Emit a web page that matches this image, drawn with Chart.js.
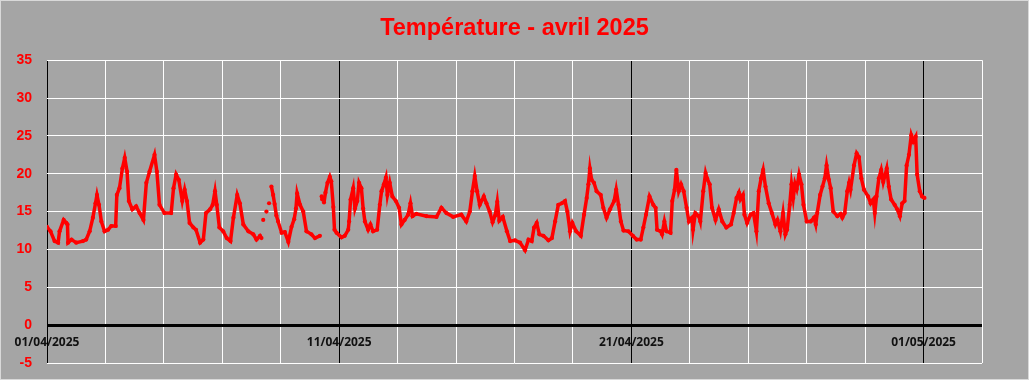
<!DOCTYPE html>
<html>
<head>
<meta charset="utf-8">
<script src="https://cdn.jsdelivr.net/npm/chart.js@4"></script>
<style>
  html, body { margin: 0; padding: 0; background: #a5a5a5; }
  #wrap { width: 1029px; height: 380px; }
</style>
</head>
<body>
<div id="wrap"><canvas id="tempChart" width="1029" height="380"></canvas></div>
<script>
const TITLE = "Température - avril 2025";

// day offsets from 01/04/2025 00:00
const dayOffsets = [
  0.00, 0.12, 0.26, 0.38, 0.43, 0.57, 0.66, 0.70, 0.72, 0.84, 1.00, 1.23, 1.34, 1.46, 1.57, 1.66, 1.71, 1.78, 1.86, 1.97,
  2.09, 2.20, 2.35, 2.39, 2.48, 2.58, 2.66, 2.74, 2.80, 2.92, 3.05, 3.17, 3.30, 3.40, 3.51, 3.68, 3.76, 3.85, 4.02, 4.25,
  4.33, 4.42, 4.51, 4.63, 4.71, 4.79, 4.88, 5.01, 5.10, 5.24, 5.35, 5.44, 5.58, 5.67, 5.75, 5.81, 5.90, 6.03, 6.15, 6.28,
  6.38, 6.51, 6.60, 6.72, 6.89, 7.06, 7.17, 7.29, 7.34, 7.37, 7.40, 7.46, 7.51, 7.56, 7.60, 7.64, 7.68, 7.74, 7.79, 7.85,
  7.91, 8.03, 8.14, 8.26, 8.37, 8.46, 8.52, 8.56, 8.66, 8.77, 8.88, 9.05, 9.17, 9.34, 9.37, 9.40, 9.42, 9.45, 9.48, 9.53,
  9.60, 9.68, 9.73, 9.80, 9.84, 9.91, 10.08, 10.19, 10.31, 10.34, 10.39, 10.48, 10.54, 10.62, 10.68, 10.76, 10.82, 10.88, 10.99, 11.07,
  11.16, 11.30, 11.39, 11.45, 11.53, 11.60, 11.65, 11.73, 11.82, 11.94, 12.05, 12.13, 12.24, 12.36, 12.44, 12.51, 12.64, 12.99, 13.33, 13.50,
  13.67, 13.90, 14.18, 14.35, 14.47, 14.56, 14.64, 14.72, 14.81, 14.95, 15.04, 15.15, 15.25, 15.34, 15.41, 15.48, 15.60, 15.74, 15.85, 16.02,
  16.19, 16.36, 16.48, 16.59, 16.67, 16.76, 16.85, 16.99, 17.16, 17.28, 17.39, 17.50, 17.62, 17.73, 17.81, 17.90, 17.98, 18.11, 18.27, 18.38,
  18.47, 18.53, 18.58, 18.64, 18.72, 18.81, 18.95, 19.04, 19.15, 19.27, 19.41, 19.48, 19.56, 19.64, 19.73, 19.90, 20.05, 20.18, 20.32, 20.41,
  20.50, 20.62, 20.75, 20.83, 20.88, 21.00, 21.05, 21.13, 21.20, 21.34, 21.40, 21.48, 21.54, 21.62, 21.70, 21.79, 21.89, 21.97, 22.08, 22.11,
  22.19, 22.31, 22.36, 22.46, 22.54, 22.59, 22.68, 22.76, 22.88, 22.99, 23.11, 23.25, 23.41, 23.50, 23.60, 23.68, 23.73, 23.82, 23.87, 23.96,
  24.08, 24.18, 24.28, 24.36, 24.44, 24.51, 24.59, 24.70, 24.81, 24.93, 25.00, 25.10, 25.19, 25.27, 25.33, 25.42, 25.48, 25.54, 25.60, 25.66,
  25.74, 25.82, 25.89, 26.00, 26.14, 26.25, 26.31, 26.36, 26.46, 26.54, 26.62, 26.68, 26.76, 26.82, 26.91, 27.05, 27.16, 27.22, 27.30, 27.39,
  27.45, 27.50, 27.62, 27.71, 27.79, 27.87, 27.96, 28.10, 28.19, 28.28, 28.33, 28.39, 28.47, 28.55, 28.62, 28.74, 28.81, 28.89, 29.01, 29.10,
  29.19, 29.27, 29.35, 29.42, 29.50, 29.58, 29.65, 29.73, 29.78, 29.87, 29.95, 30.03,
];

// °C, null = missing measurement
const temperatures = [
  13.0, 12.4, 11.1, 10.9, 12.4, 13.9, 13.5, 13.3, 10.9, 11.3, 10.9, 11.1, 11.3, 12.4, 14.2, 16.1, 17.2, 15.9, 13.7, 12.4,
  12.6, 13.1, 13.1, 17.2, 18.1, 20.7, 22.1, 20.3, 16.4, 15.3, 15.7, 14.8, 13.9, 18.8, 20.3, 22.5, 20.3, 15.9, 14.8, 14.8,
  18.1, 19.9, 19.2, 16.4, 17.9, 16.4, 13.5, 12.9, 12.6, 10.9, 11.3, 14.8, 15.3, 15.9, 17.7, 15.9, 12.9, 12.4, 11.5, 11.1,
  14.2, 17.2, 16.1, 13.3, 12.4, 12.0, 11.3, 11.8, 11.5, null, 13.9, null, 15.0, null, 16.1, null, 18.3, 17.2, 16.0, 14.5,
  13.7, 12.2, 12.3, 11.0, 13.0, 14.0, 15.4, 17.4, 15.9, 15.0, 12.4, 12.0, 11.5, 11.8, null, 17.0, 16.6, null, 16.2, 17.5,
  18.8, 19.6, 19.0, 15.6, 12.6, 12.2, 11.6, 11.8, 12.6, 13.7, 16.6, 18.1, 15.4, 16.4, 18.8, 18.1, 15.4, 13.7, 12.6, 13.3,
  12.4, 12.6, 15.9, 17.7, 18.6, 19.5, 17.2, 18.8, 17.0, 16.4, 15.5, 13.3, 13.9, 14.6, 16.1, 14.4, 14.7, 14.4, 14.3, 15.5,
  14.8, 14.3, 14.6, 13.7, 15.0, 17.7, 19.7, 17.7, 15.9, 17.0, 16.1, 15.0, 13.6, 14.5, 16.3, 13.8, 14.3, 12.4, 11.1, 11.2,
  10.9, 9.9, 11.3, 11.1, 12.9, 13.5, 12.0, 11.8, 11.2, 11.5, 13.7, 15.9, 16.1, 16.4, 15.0, 12.4, 13.5, 12.4, 11.8, 14.6,
  16.8, 18.6, 20.7, 19.2, 18.8, 17.7, 17.2, 15.5, 14.2, 15.3, 16.4, 17.9, 15.9, 13.7, 12.5, 12.4, 11.8, 11.3, 11.3, 12.9,
  14.6, 17.0, 15.9, 15.5, 12.6, 12.4, 12.0, 13.7, 12.4, 12.2, 16.4, 17.9, 20.5, 17.7, 18.6, 17.7, 15.5, 13.7, 14.2, 12.6,
  14.8, 14.4, 13.7, 17.7, 20.1, 19.4, 18.6, 15.5, 13.9, 15.3, 13.7, 12.9, 13.3, 14.8, 16.8, 17.5, 16.6, 17.2, 14.6, 13.5,
  14.6, 14.8, 12.4, 17.7, 19.4, 20.5, 18.3, 16.1, 14.8, 13.3, 13.9, 12.4, 14.8, 12.0, 12.6, 15.9, 18.6, 16.8, 18.7, 18.0,
  19.9, 18.6, 15.9, 13.7, 13.7, 14.2, 13.3, 14.8, 17.2, 18.3, 19.4, 21.1, 19.2, 18.1, 15.0, 14.4, 14.7, 14.2, 14.8, 17.7,
  18.8, 17.9, 21.1, 22.7, 22.2, 19.4, 17.9, 17.0, 16.1, 16.6, 14.8, 17.0, 19.4, 20.5, 18.9, 20.7, 18.3, 16.6, 15.9, 15.3,
  14.4, 16.1, 16.4, 21.1, 22.5, 25.1, 24.3, 24.9, 19.9, 17.7, 17.0, 16.8,
];

const xTickLabels = { 0: "01/04/2025", 10: "11/04/2025", 20: "21/04/2025", 30: "01/05/2025" };
const yTicks = { min: -5, max: 35, step: 5 };
const xRange = { min: 0, max: 32, step: 2 };

const frame = {
  id: "frame",
  beforeDraw(chart) {
    const { ctx, width, height } = chart;
    ctx.save();
    ctx.fillStyle = "#a5a5a5";
    ctx.fillRect(0, 0, width, height);
    ctx.strokeStyle = "#d9d9d9";
    ctx.lineWidth = 1;
    ctx.strokeRect(0.5, 0.5, width - 1, height - 1);
    ctx.restore();
  },
};

// date labels sit just under the 0 °C line, like the original
const dateLabels = {
  id: "dateLabels",
  afterDraw(chart) {
    const { ctx, scales } = chart;
    const y = scales.y.getPixelForValue(0) + 17;
    ctx.save();
    ctx.fillStyle = "#111111";
    ctx.font = "bold 12px 'Open Sans'";
    ctx.textAlign = "center";
    ctx.textBaseline = "middle";
    Object.keys(xTickLabels).forEach((k) => {
      ctx.fillText(xTickLabels[k], scales.x.getPixelForValue(Number(k)), y);
    });
    ctx.restore();
  },
};

new Chart(document.getElementById("tempChart"), {
  type: "line",
  data: {
    datasets: [
      {
        label: "Température",
        data: dayOffsets.map((d, i) => ({ x: d, y: temperatures[i] })),
        borderColor: "#ff0000",
        backgroundColor: "#ff0000",
        borderWidth: 3.5,
        pointRadius: 2.1,
        pointBorderWidth: 0,
        pointHoverRadius: 0,
        tension: 0,
        spanGaps: false,
      },
    ],
  },
  options: {
    responsive: false,
    animation: false,
    layout: { padding: 0 },
    plugins: {
      legend: { display: false },
      tooltip: { enabled: false },
      title: {
        display: true,
        text: TITLE,
        color: "#ff0000",
        font: { family: "Liberation Sans", size: 23.5, weight: "bold", lineHeight: 1.2 },
        padding: { top: 14, bottom: 18 },
      },
    },
    scales: {
      x: {
        type: "linear",
        min: xRange.min,
        max: xRange.max,
        border: { display: false },
        grid: {
          drawTicks: false,
          color: (c) => (c.tick && c.tick.value % 10 === 0 && c.tick.value <= 30 ? "#000000" : "#ffffff"),
          lineWidth: 1,
        },
        ticks: { stepSize: xRange.step, autoSkip: false, display: false },
        afterFit: (s) => { s.height = 17; },
      },
      y: {
        min: yTicks.min,
        max: yTicks.max,
        border: { display: false },
        grid: {
          drawTicks: false,
          color: (c) => (c.tick && c.tick.value === 0 ? "#000000" : "#ffffff"),
          lineWidth: (c) => (c.tick && c.tick.value === 0 ? 3 : 1),
        },
        ticks: {
          stepSize: yTicks.step,
          padding: 15,
          color: "#ff0000",
          font: { family: "Liberation Sans", size: 14, weight: "bold" },
        },
        afterFit: (s) => {
          s.width = 47;
          s.paddingBottom = 8;
          s.paddingTop = 8;
        },
      },
      // empty right margin so the title stays centred on the whole picture
      yRight: {
        position: "right",
        display: true,
        border: { display: false },
        grid: { display: false },
        ticks: { display: false },
        afterFit: (s) => { s.width = 47; },
      },
    },
  },
  plugins: [frame, dateLabels],
});
</script>
</body>
</html>
